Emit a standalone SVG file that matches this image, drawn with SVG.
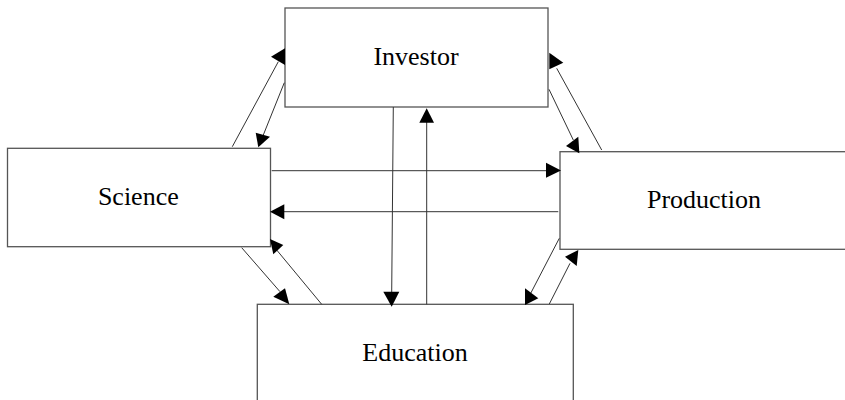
<svg xmlns="http://www.w3.org/2000/svg" width="845" height="400" viewBox="0 0 845 400">
<style>
.box{fill:#fff;stroke:#555;stroke-width:1.3}
.lbl{font-family:"Liberation Serif","Times New Roman",serif;font-size:26px;fill:#000;text-anchor:middle}
.ln{stroke:#333;stroke-width:1;fill:none}
.ah{fill:#000;stroke:none}
</style>
<rect width="845" height="400" fill="#fff"/>
<g id="investor"><rect class="box" x="285" y="8" width="263" height="99"/><text class="lbl" x="416" y="65">Investor</text></g>
<g id="science"><rect class="box" x="7.5" y="148.3" width="263" height="98.4"/><text class="lbl" x="138.3" y="205">Science</text></g>
<g id="production"><rect class="box" x="560" y="151.7" width="300" height="97.6"/><text class="lbl" x="704" y="208.3">Production</text></g>
<g id="education"><rect class="box" x="257.3" y="304.3" width="316" height="110"/><text class="lbl" x="415" y="361">Education</text></g>
<g id="connectors">
<line class="ln" x1="232.3" y1="146.7" x2="278.3" y2="61.7"/>
<polygon class="ah" points="271,56.7 285,48.3 285,65"/>
<line class="ln" x1="284.3" y1="82.7" x2="263.3" y2="135"/>
<polygon class="ah" points="255.7,132.7 270,136.7 258.3,147.3"/>
<line class="ln" x1="601.7" y1="150" x2="556.7" y2="68.3"/>
<polygon class="ah" points="549.3,52.7 563.3,62.7 549.3,69.3"/>
<line class="ln" x1="549" y1="89.3" x2="573.3" y2="140"/>
<polygon class="ah" points="566,146 578.3,136.7 579.3,153.3"/>
<line class="ln" x1="271.7" y1="170.7" x2="548" y2="170.7"/>
<polygon class="ah" points="546,162.7 561,170.5 546,177.7"/>
<line class="ln" x1="558.3" y1="211.7" x2="282" y2="211.7"/>
<polygon class="ah" points="270,211.7 284.3,204.3 284.3,219.3"/>
<line class="ln" x1="393.3" y1="107" x2="391.7" y2="293"/>
<polygon class="ah" points="383.3,291.7 399.3,291.7 391.7,306.7"/>
<line class="ln" x1="426.7" y1="304.3" x2="426.7" y2="121"/>
<polygon class="ah" points="419.3,122.7 434,122.7 426.7,108.3"/>
<line class="ln" x1="241.7" y1="247.7" x2="280" y2="291.7"/>
<polygon class="ah" points="273.3,296.7 285,288.3 289.3,304.3"/>
<line class="ln" x1="321.7" y1="304.3" x2="276.7" y2="250"/>
<polygon class="ah" points="270,239 283.3,245 273.3,254.3"/>
<line class="ln" x1="559.3" y1="238.3" x2="530.7" y2="293.3"/>
<polygon class="ah" points="525,288.3 538.3,298.3 525,305"/>
<line class="ln" x1="549.3" y1="304" x2="570" y2="263.3"/>
<polygon class="ah" points="565,256.7 578.3,250 576.7,266"/>
</g>
</svg>
